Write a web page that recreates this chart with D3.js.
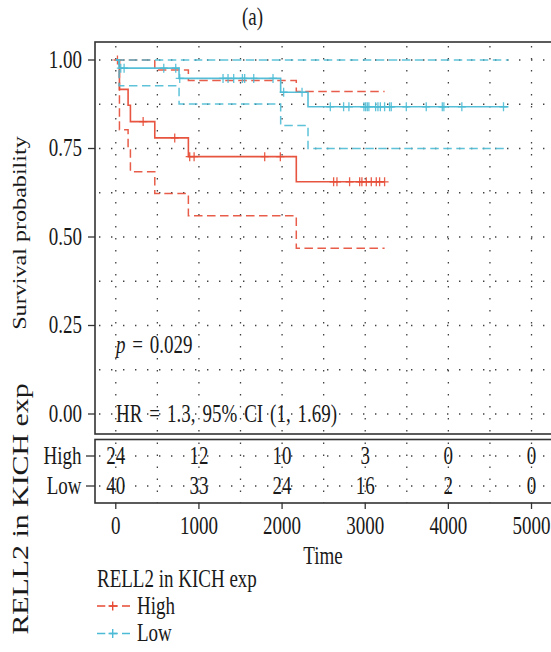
<!DOCTYPE html>
<html>
<head>
<meta charset="utf-8">
<script src="https://cdn.jsdelivr.net/npm/d3@7"></script>
<style>
  body { margin: 0; background: #fff; }
  svg { display: block; }
  text { font-family: "Liberation Serif", "Times New Roman", serif; fill: #1a1a1a; }
</style>
</head>
<body>
<svg id="chart" width="551" height="652"></svg>
<script>
// ---- Kaplan–Meier estimates: RELL2 expression in KICH ----
// High group: step times (days), survival, 95% CI bounds, censor times
const highTimes  = [0, 44, 148, 176, 469, 873, 2171];
const highSurv   = [1, 0.917, 0.872, 0.826, 0.780, 0.727, 0.656];
const highUpper  = [1, 1, 1, 1, 0.972, 0.942, 0.911];
const highLower  = [1, 0.803, 0.748, 0.684, 0.623, 0.560, 0.468];
const highEnd    = 3233;
const highCensor = [20, 329, 709, 889, 942, 1791, 1979, 2620, 2660, 2812, 2933, 2960,
                    3013, 3073, 3133, 3173, 3233];

// Low group
const lowTimes  = [0, 40, 761, 1983, 2312];
const lowSurv   = [1, 0.977, 0.948, 0.909, 0.868];
const lowUpper  = [1, 1, 1, 1, 1];
const lowLower  = [1, 0.927, 0.876, 0.815, 0.750];
const lowEnd    = 4723;
const lowCensor = [60, 100, 577, 721, 769, 1290, 1350, 1418, 1523, 1550, 1659, 1891,
                   2019, 2240, 2580, 2740, 2804, 2985, 3005, 3025, 3044, 3125, 3153,
                   3182, 3233, 3293, 3313, 3494, 3734, 3927, 3946, 4162, 4663];

// Number at risk table
const riskTimes = [0, 1000, 2000, 3000, 4000, 5000];
const riskHigh  = [24, 12, 10, 3, 0, 0];
const riskLow   = [40, 33, 24, 16, 2, 0];

// Axis ticks
const yTicks = [0, 0.25, 0.5, 0.75, 1];
const yTickLabels = ["0.00", "0.25", "0.50", "0.75", "1.00"];
const xTicks = [0, 1000, 2000, 3000, 4000, 5000];

const groups = ["High", "Low"];
const colors = { High: "#E64B35", Low: "#4DBBD5" };

// ---- layout ----
const svg = d3.select("#chart");
const SY = 1.27;            // vertical stretch of the typeface
const FONT = 19;

const panel = { left: 95, top: 42, bottom: 434, right: 556 };
const table = { top: 439.5, bottom: 503 };

const x = d3.scaleLinear().domain([-250, 5250]).range([95, 552.3]);
const y = d3.scaleLinear().domain([0, 1]).range([414, 60]);
const yRow = d3.scalePoint().domain(groups).range([456, 486]);

function label(g, px, py, str, o = {}) {
  const size = o.size || FONT;
  let tr = `translate(${px},${py}) scale(1,${SY})`;
  if (o.rotate) tr += " rotate(-90)";
  const t = g.append("text")
    .attr("transform", tr)
    .attr("text-anchor", o.anchor || "middle")
    .attr("dy", o.dy !== undefined ? o.dy : "0.33em")
    .style("font-size", size + "px");
  if (o.wordSpacing) t.style("word-spacing", o.wordSpacing + "px");
  if (typeof str === "function") str(t); else t.text(str);
  return t;
}

// ---- title ----
label(svg, 252.5, 17, "(a)");

// ---- dotted grid in the survival panel ----
const gridStyle = s => s.attr("stroke", "#404040").attr("stroke-width", 1.3)
  .attr("stroke-dasharray", "1.4,10.6").attr("fill", "none");

const main = svg.append("g");
main.selectAll("line.vg").data(d3.range(0, 5001, 500)).join("line")
  .attr("x1", d => x(d)).attr("x2", d => x(d))
  .attr("y1", panel.top + 4).attr("y2", panel.bottom)
  .call(gridStyle);
main.selectAll("line.hg").data(d3.range(0, 1.0001, 0.125)).join("line")
  .attr("x1", panel.left + 4).attr("x2", panel.right)
  .attr("y1", d => y(d)).attr("y2", d => y(d))
  .call(gridStyle);

// ---- survival curves ----
const step = d3.line().x(d => x(d[0])).y(d => y(d[1])).curve(d3.curveStepAfter);
function pts(times, vals, end) {
  const p = times.map((t, i) => [t, vals[i]]);
  p.push([end, vals[vals.length - 1]]);
  return p;
}
function survAt(times, vals, t) {
  let v = vals[0];
  for (let i = 0; i < times.length; i++) if (times[i] <= t) v = vals[i];
  return v;
}

const curves = [
  { g: "High", times: highTimes, surv: highSurv, up: highUpper, lo: highLower, end: highEnd, cens: highCensor },
  { g: "Low",  times: lowTimes,  surv: lowSurv,  up: lowUpper,  lo: lowLower,  end: lowEnd,  cens: lowCensor }
];

curves.forEach(c => {
  const gg = main.append("g").attr("fill", "none").attr("stroke", colors[c.g]);
  [c.up, c.lo].forEach(b => {
    gg.append("path").attr("d", step(pts(c.times, b, c.end)))
      .attr("stroke-width", 1.5).attr("stroke-dasharray", "8.5,4.5").attr("opacity", 0.9);
  });
  gg.append("path").attr("d", step(pts(c.times, c.surv, c.end)))
    .attr("stroke-width", 1.6).attr("opacity", 0.95);
  // censor marks
  c.cens.forEach(t => {
    const cx = x(t), cy = y(survAt(c.times, c.surv, t));
    gg.append("path").attr("d", `M${cx - 4},${cy}H${cx + 4}M${cx},${cy - 4.5}V${cy + 4.5}`)
      .attr("stroke-width", 1.3).attr("opacity", 0.9);
  });
});

// ---- panel frame and y axis ----
svg.append("rect").attr("x", panel.left).attr("y", panel.top)
  .attr("width", panel.right - panel.left).attr("height", panel.bottom - panel.top)
  .attr("fill", "none").attr("stroke", "#333").attr("stroke-width", 1.6);

const yAxis = svg.append("g");
yTicks.forEach((v, i) => {
  yAxis.append("line").attr("x1", 88).attr("x2", panel.left)
    .attr("y1", y(v)).attr("y2", y(v)).attr("stroke", "#333").attr("stroke-width", 1.3);
  label(yAxis, 82, y(v), yTickLabels[i], { anchor: "end" });
});
label(svg, 20, 233, "Survival probability", { rotate: true });

// ---- statistics text ----
label(main, 116, 345, t => {
  t.append("tspan").style("font-style", "italic").text("p");
  t.append("tspan").text(" = 0.029");
}, { anchor: "start", wordSpacing: 2 });
label(main, 116, 414.5, "HR = 1.3, 95% CI (1, 1.69)", { anchor: "start", wordSpacing: 2.2 });

// ---- risk table ----
const tg = svg.append("g");
tg.selectAll("line.tv").data(d3.range(0, 5001, 500)).join("line")
  .attr("x1", d => x(d)).attr("x2", d => x(d))
  .attr("y1", table.top + 3).attr("y2", table.bottom)
  .call(gridStyle);
tg.selectAll("line.th").data(groups).join("line")
  .attr("x1", panel.left + 4).attr("x2", panel.right)
  .attr("y1", d => yRow(d)).attr("y2", d => yRow(d))
  .call(gridStyle);

const risk = { High: riskHigh, Low: riskLow };
groups.forEach(gname => {
  riskTimes.forEach((t, i) => {
    label(tg, x(t), yRow(gname), String(risk[gname][i]));
  });
  tg.append("line").attr("x1", 86).attr("x2", panel.left)
    .attr("y1", yRow(gname)).attr("y2", yRow(gname)).attr("stroke", "#333").attr("stroke-width", 1.3);
  label(tg, 81.5, yRow(gname), gname, { anchor: "end" });
});
tg.append("rect").attr("x", panel.left).attr("y", table.top)
  .attr("width", panel.right - panel.left).attr("height", table.bottom - table.top)
  .attr("fill", "none").attr("stroke", "#333").attr("stroke-width", 1.6);

// x axis below the table
const xAxis = svg.append("g");
xTicks.forEach(t => {
  xAxis.append("line").attr("x1", x(t)).attr("x2", x(t))
    .attr("y1", table.bottom).attr("y2", table.bottom + 6)
    .attr("stroke", "#333").attr("stroke-width", 1.3);
  label(xAxis, x(t), 526.5, String(t));
});
label(svg, 323, 556, "Time");
label(svg, 20, 509, "RELL2 in KICH exp", { rotate: true, size: 23.5 });

// ---- legend ----
const lg = svg.append("g");
label(lg, 97, 579, "RELL2 in KICH exp", { anchor: "start" });
[["High", 606], ["Low", 633.5]].forEach(([gname, ly]) => {
  const c = colors[gname];
  lg.append("line").attr("x1", 97).attr("x2", 130).attr("y1", ly).attr("y2", ly)
    .attr("stroke", c).attr("stroke-width", 1.5).attr("stroke-dasharray", "8.3,4.2");
  lg.append("path").attr("d", `M${108.5},${ly}H${117}M${112.7},${ly - 4.5}V${ly + 4.5}`)
    .attr("stroke", c).attr("stroke-width", 1.4);
  label(lg, 137, ly, gname, { anchor: "start" });
});
</script>
</body>
</html>
